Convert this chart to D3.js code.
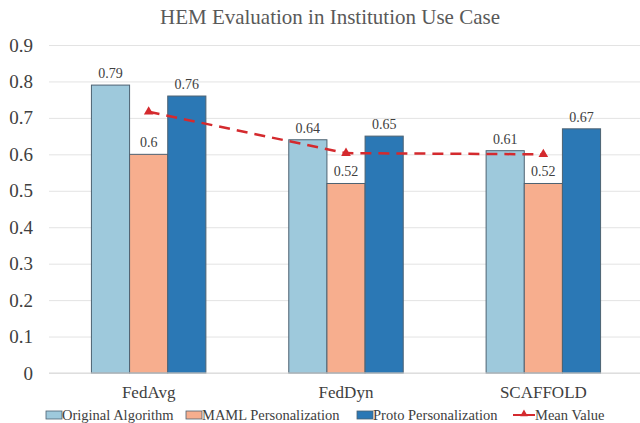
<!DOCTYPE html>
<html>
<head>
<meta charset="utf-8">
<script src="https://cdn.jsdelivr.net/npm/d3@7"></script>
<style>
  body { margin: 0; background: #fff; }
  svg text { font-family: "Liberation Serif", serif !important; }
</style>
</head>
<body>
<div id="chart"></div>
<script>
// data
var categories = ["FedAvg", "FedDyn", "SCAFFOLD"];
var seriesNames = ["Original Algorithm", "MAML Personalization", "Proto Personalization"];
var original = [0.79, 0.64, 0.61];
var maml = [0.6, 0.52, 0.52];
var proto = [0.76, 0.65, 0.67];
var meanName = "Mean Value";
var yTicks = [0, 0.1, 0.2, 0.3, 0.4, 0.5, 0.6, 0.7, 0.8, 0.9];

var colors = ["#9ec9dc", "#f7ae8e", "#2b78b5"];
var meanColor = "#d42a2e";

var width = 640, height = 423;
var series = [original, maml, proto];
var means = categories.map(function (c, i) {
    return (original[i] + maml[i] + proto[i]) / 3;
});

var svg = d3.select("#chart").append("svg")
    .attr("width", width)
    .attr("height", height)
    .attr("font-family", "Liberation Serif, serif");

// scales
var x0 = d3.scaleBand().domain(categories).range([49, 643])
    .paddingInner(0.42).paddingOuter(0.215);
var x1 = d3.scaleBand().domain(d3.range(3)).range([0, x0.bandwidth()]);
var y = d3.scaleLinear().domain([0, 0.9]).range([373, 45]);

// title
svg.append("text")
    .attr("x", 330).attr("y", 24)
    .attr("text-anchor", "middle")
    .attr("fill", "#595959")
    .style("font-size", "21px")
    .text("HEM Evaluation in Institution Use Case");

// grid lines + y axis
var yAxis = svg.append("g")
    .attr("transform", "translate(49,0)")
    .call(d3.axisLeft(y).tickValues(yTicks).tickSize(-594).tickPadding(16)
        .tickFormat(function (d) { return d === 0 ? "0" : d3.format(".1f")(d); }));
yAxis.attr("font-family", null);
yAxis.select(".domain").remove();
yAxis.selectAll(".tick line").attr("stroke", "#e3e3e3").attr("stroke-width", 1);
yAxis.selectAll(".tick text")
    .attr("fill", "#404040")
    .style("font-size", "19px");

// bars
var groups = svg.append("g").selectAll("g")
    .data(categories)
    .join("g")
    .attr("transform", function (d) { return "translate(" + x0(d) + ",0)"; });

groups.selectAll("rect")
    .data(function (d, i) { return series.map(function (s, k) { return { k: k, v: s[i] }; }); })
    .join("rect")
    .attr("x", function (d) { return x1(d.k); })
    .attr("y", function (d) { return y(d.v); })
    .attr("width", x1.bandwidth())
    .attr("height", function (d) { return y(0) - y(d.v); })
    .attr("fill", function (d) { return colors[d.k]; })
    .attr("stroke", "#4d6272")
    .attr("stroke-width", 1);

groups.selectAll(".val")
    .data(function (d, i) { return series.map(function (s, k) { return { k: k, v: s[i] }; }); })
    .join("text")
    .attr("class", "val")
    .attr("x", function (d) { return x1(d.k) + x1.bandwidth() / 2; })
    .attr("y", function (d) { return y(d.v) - 7; })
    .attr("text-anchor", "middle")
    .attr("fill", "#404040")
    .style("font-size", "14px")
    .text(function (d) { return d.v; });

// x axis line
svg.append("line")
    .attr("x1", 49).attr("x2", 643)
    .attr("y1", y(0)).attr("y2", y(0))
    .attr("stroke", "#d9d9d9");

// category labels
svg.append("g").selectAll("text")
    .data(categories)
    .join("text")
    .attr("x", function (d) { return x0(d) + x0.bandwidth() / 2; })
    .attr("y", 398)
    .attr("text-anchor", "middle")
    .attr("fill", "#404040")
    .style("font-size", "17px")
    .text(function (d) { return d; });

// mean line
var line = d3.line()
    .x(function (d, i) { return x0(categories[i]) + x0.bandwidth() / 2; })
    .y(function (d) { return y(d); });

svg.append("path")
    .datum(means)
    .attr("d", line)
    .attr("fill", "none")
    .attr("stroke", meanColor)
    .attr("stroke-width", 2.5)
    .attr("stroke-dasharray", "11,7");

svg.append("g").selectAll("path")
    .data(means)
    .join("path")
    .attr("transform", function (d, i) {
        return "translate(" + (x0(categories[i]) + x0.bandwidth() / 2) + "," + y(d) + ")";
    })
    .attr("d", d3.symbol().type(d3.symbolTriangle).size(40))
    .attr("fill", meanColor);

// legend
var legend = svg.append("g");
var legX = [46, 186, 357];
seriesNames.forEach(function (name, k) {
    legend.append("rect")
        .attr("x", legX[k]).attr("y", 411)
        .attr("width", 16).attr("height", 8)
        .attr("fill", colors[k])
        .attr("stroke", "#4d6272").attr("stroke-width", 0.8);
    legend.append("text")
        .attr("x", legX[k] + 16).attr("y", 420)
        .attr("fill", "#404040")
        .style("font-size", "14.5px")
        .text(name);
});
legend.append("line")
    .attr("x1", 513).attr("x2", 535)
    .attr("y1", 415).attr("y2", 415)
    .attr("stroke", meanColor).attr("stroke-width", 2);
legend.append("path")
    .attr("transform", "translate(524,414)")
    .attr("d", d3.symbol().type(d3.symbolTriangle).size(25))
    .attr("fill", meanColor);
legend.append("text")
    .attr("x", 535).attr("y", 420)
    .attr("fill", "#404040")
    .style("font-size", "14.5px")
    .text(meanName);
</script>
</body>
</html>
